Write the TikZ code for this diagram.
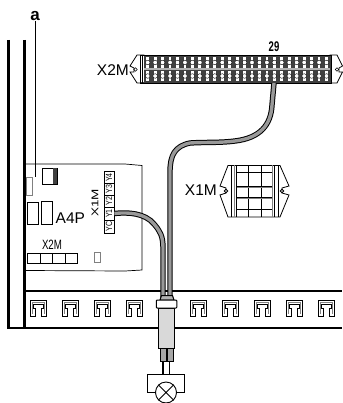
\documentclass[tikz,border=0pt]{standalone}
\usepackage{graphicx}
\usepackage{fontspec}
\setmainfont{Liberation Sans}
\definecolor{cablefill}{gray}{0.6}
\definecolor{glandfill}{gray}{0.85}
\definecolor{termdark}{gray}{0.25}
\tikzset{
  wall/.style={line width=2.3pt,black},
  thin line/.style={line width=0.7pt,black},
  cable/.style={line width=1pt,black,double=cablefill,double distance=3.4pt},
  lbl/.style={inner sep=0pt,font=\fontsize{15.5}{16}\selectfont},
  tiny lbl/.style={inner sep=0pt,font=\fontsize{13.5}{14}\selectfont,xscale=0.72},
  term/.style={draw=black,line width=0.7pt,fill=white,minimum height=10pt,inner sep=0pt,rotate=90,font=\fontsize{9}{9}\selectfont},
  slot/.pic={
    \draw[line width=1pt,black,fill=white] (-8,16)--(-8,0)--(8,0)--(8,16)--(3,16)--(3,8)--(5,8)--(5,4)--(-5,4)--(-5,8)--(-3,8)--(-3,16)--cycle;
    \draw[line width=0.6pt,gray] (-6,14)--(-6,2.5)--(6,2.5)--(6,14);
  }
}
\newcommand{\tlab}[1]{\scalebox{0.78}[1]{#1}}
\begin{document}
\begin{tikzpicture}[x=1pt,y=-1pt]
\useasboundingbox (0,0) rectangle (342,403);
\fill[white] (0,0) rectangle (342,403);
% walls
\draw[wall] (8.5,40)--(8.5,328)--(342,328);
\draw[wall] (24.5,40)--(24.5,328);
\draw[wall] (24.5,291)--(342,291);
\foreach \cx in {38,70,102,134,198,230,262,294,326}{ \pic at (\cx,300) {slot}; }
% PCB
\draw[thin line] (25,164)--(125,164)--(142,165.5)--(142,270)--(125,271)--(25,270.5);
\node[draw=gray,fill=white,line width=0.8pt,minimum width=6pt,minimum height=18pt,inner sep=0pt] (small) at (29,186) {};
\draw[line width=0.8pt,black,fill=white] (42,168) rectangle (57,184);
\fill[termdark] (53,168) rectangle (57,184);
\draw[thin line,fill=white] (27,202) rectangle (38.5,224);
\draw[thin line,fill=white] (41,201.5) rectangle (52,224);
\node[lbl,anchor=west] (a4p) at (55.5,218) {A4P};
\node[tiny lbl] (x2ms) at (52,245) {X2M};
\foreach \i in {0,1,2,3}{ \draw[thin line,fill=white] (27.5+12.5*\i,253) rectangle ++(12.5,10.5); }
\draw[gray,line width=0.8pt,fill=white] (94.5,252.5) rectangle (100,262);
\node[tiny lbl,rotate=90] (x1ms) at (95,203) {X1M};
% terminals
\node[term,minimum width=12pt] (Y4) at (109,177.5) {\tlab{Y4}};
\node[term,minimum width=12pt] (Y3) at (109,189) {\tlab{Y3}};
\node[term,minimum width=12pt] (Y2) at (109,201) {\tlab{Y2}};
\node[term,minimum width=13pt] (Y1) at (109,213.5) {\tlab{Y1}};
\node[term,minimum width=13pt] (YC) at (109,226.5) {\tlab{YC}};
% leader
\node[inner sep=0pt,font=\bfseries\fontsize{17}{17}\selectfont] (alabel) at (35,16) {a};
\coordinate (aend) at (35,177);
\draw[line width=0.7pt] (alabel.south)--(aend);
% X2M block
\draw[line width=0.8pt,fill=white] (144,55)--(137,55)--(130,66)--(134,68)--(134,72)--(130,72)--(137,83)--(144,83)--cycle;
\draw[line width=0.8pt,fill=white] (330,55)--(337,55)--(342.5,66)--(339,68)--(339,72)--(342.5,72)--(337,83)--(330,83)--cycle;
\draw[line width=0.6pt] (135.5,69.5) circle (1.8);
\draw[line width=0.6pt] (337,69.5) circle (1.8);
\draw[line width=0.8pt,fill=termdark] (140,55) rectangle (331,83);
\fill[white] (140.6,55.6) rectangle (143.5,82.4);
\draw[line width=0.5pt] (142,55)--(142,83);
\fill[gray!60] (143.5,68) rectangle (330.4,70.5);
\foreach \i in {0,...,24}{
  \pgfmathsetmacro{\xx}{147.7+7.45*\i}
  \foreach \yy in {62.5,76}{
    \fill[white] (\xx-1.4,\yy-5.4) rectangle (\xx+1.4,\yy+5.4);
    \fill[termdark] (\xx-3.7,\yy-5) rectangle (\xx-2.9,\yy+5);
    \draw[line width=0.4pt,fill=white] (\xx,\yy) circle (2.3);
  }
}
\node[inner sep=0pt,font=\bfseries\fontsize{14}{14}\selectfont,xscale=0.68] (n29) at (274,47) {29};
\node[lbl,anchor=east] (x2m) at (129,70) {X2M};
% X1M block
\node[lbl,anchor=east] (x1m) at (217,190) {X1M};
\draw[line width=0.8pt,fill=white] (228,165.5)--(280,165.5)--(289,186)--(282,188)--(282,193)--(289,195)--(280,217)--(228,217)--(220,195)--(226,193)--(226,188)--(220,186)--cycle;
\draw[line width=0.7pt] (226,191) circle (1.8);
\draw[line width=0.7pt] (282,191) circle (1.8);
\foreach \x in {231,248,261,274,278}{ \draw[line width=0.8pt] (\x,165.5)--(\x,217); }
\draw[line width=1.3pt,gray] (234.5,165.5)--(234.5,217);
\draw[line width=1.3pt,gray] (272.5,165.5)--(272.5,217);
\draw[line width=0.8pt] (236.5,165.5)--(236.5,217);
\draw[line width=0.8pt] (236.5,172.5)--(272,172.5);
\draw[line width=0.8pt] (236.5,186)--(272,186);
\draw[line width=1.2pt,gray] (236.5,187.5)--(272,187.5);
\draw[line width=0.8pt] (236.5,197)--(272,197);
\draw[line width=1.2pt,gray] (236.5,198.5)--(272,198.5);
\draw[line width=0.8pt] (236.5,209.5)--(272,209.5);
% gland
\node[draw=black,line width=1pt,fill=glandfill,minimum width=16.5pt,minimum height=40pt,inner sep=0pt] (gland) at (166.5,328) {};
\coordinate (glandA) at (163,298);
\coordinate (glandB) at (170,298);
\coordinate (t29) at (274,83);
% cables
\draw[cable] (Y1.south) ..controls (128,212) and (145,213) .. (154,224) ..controls (160,231) and (163,236) .. (163,248) -- (glandA);
\draw[cable] (t29) -- (272,105) ..controls (271,125) and (260,138) .. (235,141) ..controls (220,143) and (205,142) .. (190,143) ..controls (175,146) and (170,155) .. (170,172) -- (glandB);
\draw[line width=1pt,fill=gray!60] (160,300)--(161.5,295.5)--(172.5,295.5)--(174,300)--cycle;
\node[draw=black,line width=1pt,fill=white,minimum width=20.5pt,minimum height=8pt,inner sep=0pt,rounded corners=0.8pt] (cap) at (166.5,304) {};
% lower wires
\draw[line width=1pt,fill=gray!70] (160,348) rectangle (166,361);
\draw[line width=1pt,fill=gray!70] (167,348) rectangle (173,361);
% lamp
\node[draw=black,line width=0.9pt,fill=white,circle,minimum size=21pt,inner sep=0pt] (lamp) at (166,392.5) {};
\draw[line width=0.8pt] (lamp.north west)--(lamp.south east) (lamp.north east)--(lamp.south west);
\coordinate (wa) at (163,361);
\coordinate (wb) at (169,361);
\draw[line width=1.2pt] (wa)--(163,374.5);
\draw[line width=0.7pt] (wb)--(169,374.5);
\draw[line width=0.7pt] (lamp.west)--(147,392.5)--(147,374.5)--(184.5,374.5)--(184.5,392.5)--(lamp.east);
\end{tikzpicture}
\end{document}
